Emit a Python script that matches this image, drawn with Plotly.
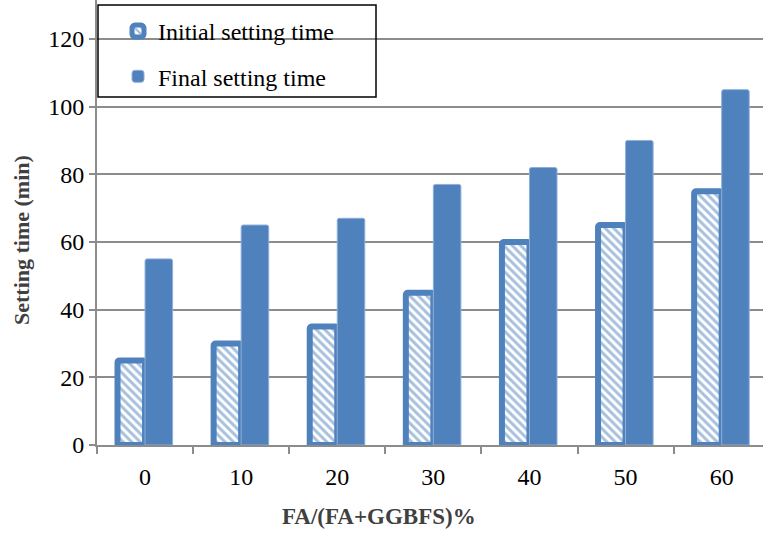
import plotly.graph_objects as go

categories = ["0", "10", "20", "30", "40", "50", "60"]
initial_setting = [25, 30, 35, 45, 60, 65, 75]
final_setting = [55, 65, 67, 77, 82, 90, 105]
y_ticks = [0, 20, 40, 60, 80, 100, 120]

BLUE = "#4F81BD"
GRID = "#8C8C8C"
FONT = "Liberation Serif"

W, H = 763, 533
ML, MR, MT, MB = 97, 0, 0, 88
PW, PH = W - ML - MR, H - MT - MB


def px(xp):
    return (xp - ML) / PW


def py(yp):
    return (H - MB - yp) / PH


fig = go.Figure()
fig.add_trace(go.Bar(
    x=categories, y=initial_setting, name="Initial setting time",
    legendgroup="a",
    marker=dict(color="white",
                line=dict(color=BLUE, width=6),
                pattern=dict(shape="\\", fgcolor=BLUE, bgcolor="white",
                             size=6, solidity=0.5, fillmode="overlay"),
                cornerradius=2),
))
fig.add_trace(go.Bar(
    x=categories, y=final_setting, name="Final setting time",
    legendgroup="b",
    marker=dict(color=BLUE, line=dict(color="#8FAEDA", width=1), cornerradius=2),
))

fig.update_layout(
    width=W, height=H,
    margin=dict(l=ML, r=MR, t=MT, b=MB),
    paper_bgcolor="white", plot_bgcolor="white",
    barmode="group", bargap=0.427, bargroupgap=0,
    font=dict(family=FONT, size=24, color="black"),
    showlegend=True,
    legend=dict(x=px(118), y=py(9), xanchor="left", yanchor="top",
                bgcolor="rgba(0,0,0,0)", borderwidth=0,
                tracegroupgap=11, font=dict(size=24, family=FONT, color="black")),
    xaxis=dict(range=[-0.5, 6.43], showgrid=False, showline=True,
               linecolor=GRID, linewidth=2, ticks="outside",
               tickson="boundaries", ticklen=7, tickcolor=GRID, tickwidth=2,
               ticklabelstandoff=9,
               tickfont=dict(size=24, family=FONT, color="black")),
    yaxis=dict(range=[0, 131.5], tickvals=y_ticks, showgrid=True,
               gridcolor=GRID, gridwidth=2, showline=True, linecolor=GRID,
               linewidth=2, ticks="outside", ticklen=6, tickcolor=GRID,
               tickwidth=2, zeroline=False,
               tickfont=dict(size=24, family=FONT, color="black")),
    shapes=[dict(type="rect", xref="paper", yref="paper",
                 x0=px(98), x1=px(376), y0=py(97), y1=py(5),
                 line=dict(color="black", width=1.5), fillcolor="rgba(0,0,0,0)")],
    annotations=[
        dict(text="<b>Setting time (min)</b>", xref="paper", yref="paper",
             x=px(21), y=py(240), xanchor="center", yanchor="middle",
             textangle=-90, showarrow=False,
             font=dict(size=22, family=FONT, color="#404040")),
        dict(text="<b>FA/(FA+GGBFS)%</b>", xref="paper", yref="paper",
             x=px(379), y=py(516), xanchor="center", yanchor="middle",
             showarrow=False,
             font=dict(size=23, family=FONT, color="#404040")),
    ],
)

fig.write_html("out.html")
